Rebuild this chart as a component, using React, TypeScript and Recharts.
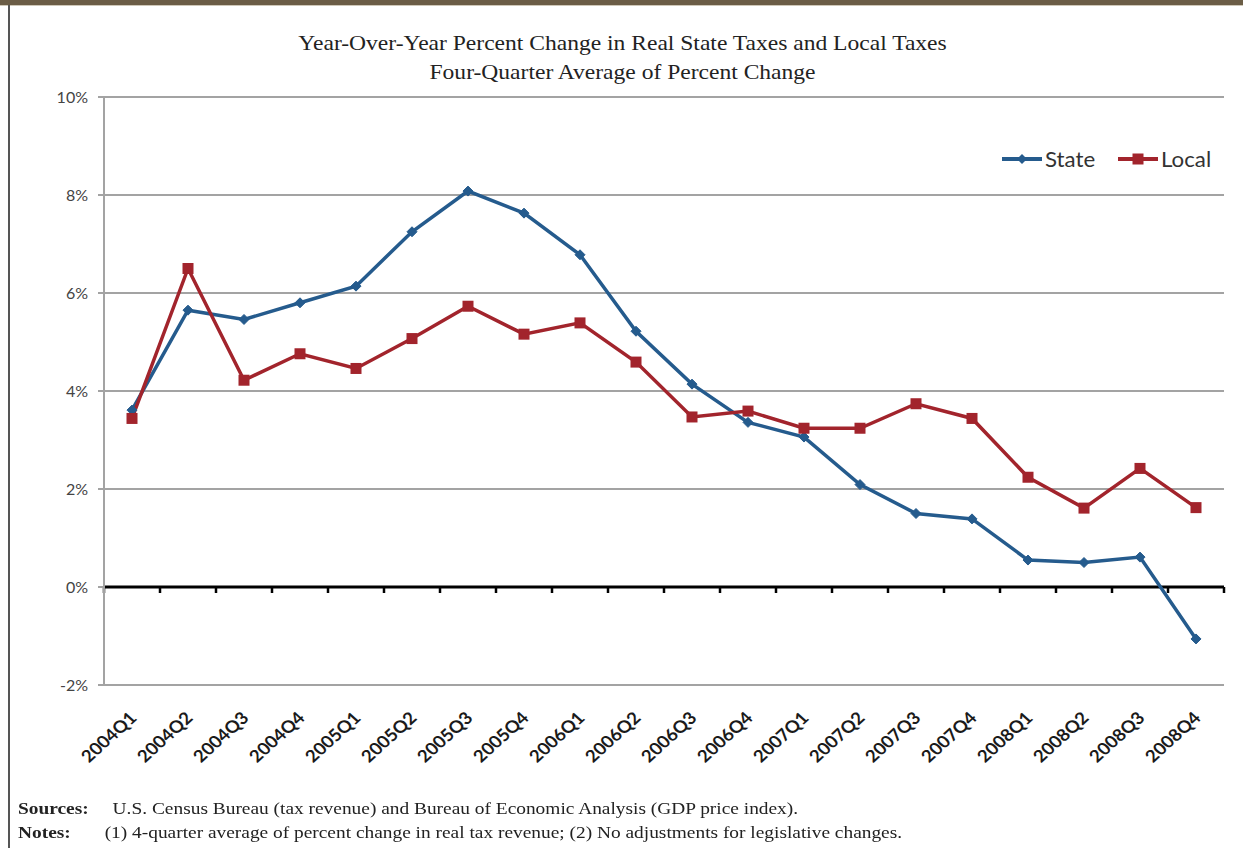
import React from 'react';
import { LineChart, Line, XAxis, YAxis, CartesianGrid, ReferenceLine } from 'recharts';

const quarters = [
  '2004Q1', '2004Q2', '2004Q3', '2004Q4',
  '2005Q1', '2005Q2', '2005Q3', '2005Q4',
  '2006Q1', '2006Q2', '2006Q3', '2006Q4',
  '2007Q1', '2007Q2', '2007Q3', '2007Q4',
  '2008Q1', '2008Q2', '2008Q3', '2008Q4',
];

const stateChange = [3.61, 5.65, 5.46, 5.8, 6.14, 7.25, 8.08, 7.63, 6.78, 5.22, 4.14, 3.36, 3.06, 2.09, 1.5, 1.39, 0.55, 0.5, 0.61, -1.06];
const localChange = [3.44, 6.5, 4.22, 4.76, 4.46, 5.07, 5.73, 5.16, 5.39, 4.59, 3.47, 3.59, 3.24, 3.24, 3.74, 3.44, 2.24, 1.61, 2.42, 1.62];

const yTicks = [-2, 0, 2, 4, 6, 8, 10];

const titleLines = [
  'Year-Over-Year Percent Change in Real State Taxes and Local Taxes',
  'Four-Quarter Average of Percent Change',
];

const STATE_COLOR = '#255b8d';
const LOCAL_COLOR = '#a2242c';
const SANS = "Lato, 'Open Sans', sans-serif";
const SERIF = "'Liberation Serif', 'DejaVu Serif', serif";

const chartData = quarters.map((q, i) => ({
  quarter: q,
  state: stateChange[i],
  local: localChange[i],
}));

const series = [
  { key: 'state', name: 'State', color: STATE_COLOR, marker: 'diamond' },
  { key: 'local', name: 'Local', color: LOCAL_COLOR, marker: 'square' },
];

const DiamondDot = (props: any) => {
  const { cx, cy, index } = props;
  if (cx == null || cy == null) return <g key={index} />;
  const r = 5;
  return (
    <path
      key={index}
      d={`M${cx},${cy - r}L${cx + r},${cy}L${cx},${cy + r}L${cx - r},${cy}Z`}
      fill={STATE_COLOR}
      stroke={STATE_COLOR}
      strokeWidth={1}
    />
  );
};

const SquareDot = (props: any) => {
  const { cx, cy, index } = props;
  if (cx == null || cy == null) return <g key={index} />;
  const s = 11;
  return <rect key={index} x={cx - s / 2} y={cy - s / 2} width={s} height={s} fill={LOCAL_COLOR} />;
};

const XTick = (props: any) => {
  const { x, y, payload } = props;
  return (
    <g transform={`translate(${x + 6},${y + 34}) scale(1.1,1)`}>
      <text
        textAnchor="end"
        transform="rotate(-45)"
        fontFamily={SANS}
        fontSize={17}
        fontWeight={700}
        fill="#1a1a1a"
      >
        {payload.value}
      </text>
    </g>
  );
};

// zero line with boundary ticks between the quarters
const ZeroAxis = (props: any) => {
  const { x1, x2, y1 } = props;
  const n = quarters.length;
  const step = (x2 - x1) / n;
  return (
    <g>
      <line x1={x1} x2={x2} y1={y1} y2={y1} stroke="#000" strokeWidth={3} />
      {Array.from({ length: n + 1 }, (_, i) => (
        <line key={i} x1={x1 + i * step} x2={x1 + i * step} y1={y1} y2={y1 + 6} stroke="#000" strokeWidth={2.5} />
      ))}
    </g>
  );
};

const LegendIcon = ({ color, marker }: { color: string; marker: string }) => (
  <svg width={40} height={14} style={{ marginRight: 3 }}>
    <line x1={0} x2={40} y1={7} y2={7} stroke={color} strokeWidth={4} />
    {marker === 'diamond' ? (
      <path d="M20,2L25,7L20,12L15,7Z" fill={color} />
    ) : (
      <rect x={14.5} y={1.5} width={11} height={11} fill={color} />
    )}
  </svg>
);

export default function App() {
  return (
    <div
      style={{
        position: 'absolute',
        left: 0,
        top: 0,
        width: 1243,
        height: 848,
        background: '#fff',
        overflow: 'hidden',
      }}
    >
      <div style={{ position: 'absolute', left: 0, top: 0, width: 1243, height: 5, background: '#6b5d46' }} />
      <div style={{ position: 'absolute', left: 0, top: 5, width: 1243, height: 1, background: '#cfc8b8' }} />
      <div style={{ position: 'absolute', left: 8, top: 5, width: 2, height: 843, background: '#555' }} />

      <div
        style={{
          position: 'absolute',
          left: 0,
          top: 28,
          width: 1243,
          textAlign: 'center',
          fontFamily: SERIF,
          fontSize: 22,
          lineHeight: '29px',
          color: '#222',
          transform: 'scaleX(1.07)',
          transformOrigin: '622px 0',
        }}
      >
        {titleLines.map((t) => (
          <div key={t} style={{ marginLeft: 2 }}>{t}</div>
        ))}
      </div>

      <LineChart
        width={1243}
        height={848}
        data={chartData}
        margin={{ top: 97, right: 19, left: 44, bottom: 63 }}
        style={{ position: 'absolute', left: 0, top: 0 }}
      >
        <CartesianGrid vertical={false} stroke="#a3a3a3" strokeWidth={2} />
        <XAxis
          dataKey="quarter"
          scale="band"
          axisLine={false}
          tickLine={false}
          tickSize={0}
          tickMargin={0}
          height={100}
          interval={0}
          tick={<XTick />}
        />
        <YAxis
          domain={[-2, 10]}
          ticks={yTicks}
          width={60}
          tickFormatter={(v: number) => `${v}%`}
          axisLine={{ stroke: '#a3a3a3', strokeWidth: 2 }}
          tickLine={{ stroke: '#a3a3a3', strokeWidth: 2 }}
          tickSize={6}
          tickMargin={10}
          tick={{ fontFamily: SANS, fontSize: 16, fill: '#444' }}
        />
        <ReferenceLine y={0} shape={<ZeroAxis />} />
        <Line
          dataKey="state"
          name="State"
          stroke={STATE_COLOR}
          strokeWidth={3.5}
          dot={<DiamondDot />}
          activeDot={false}
          isAnimationActive={false}
        />
        <Line
          dataKey="local"
          name="Local"
          stroke={LOCAL_COLOR}
          strokeWidth={3.5}
          dot={<SquareDot />}
          activeDot={false}
          isAnimationActive={false}
        />
      </LineChart>

      <div
        style={{
          position: 'absolute',
          left: 1002,
          top: 146,
          display: 'flex',
          alignItems: 'center',
          fontFamily: SANS,
          fontSize: 21,
          color: '#333',
        }}
      >
        {series.map((s) => (
          <div key={s.key} style={{ display: 'flex', alignItems: 'center', marginRight: 26 }}>
            <LegendIcon color={s.color} marker={s.marker} />
            <span style={{ display: 'inline-block', transform: 'scaleX(1.06)', transformOrigin: '0 0' }}>{s.name}</span>
          </div>
        ))}
      </div>

      <div
        style={{
          position: 'absolute',
          left: 18,
          top: 797,
          fontFamily: SERIF,
          fontSize: 17,
          lineHeight: '24px',
          color: '#222',
          transform: 'scaleX(1.14)',
          transformOrigin: '0 0',
        }}
      >
        <div style={{ position: 'relative', height: 24 }}>
          <b>Sources:</b>
          <span style={{ position: 'absolute', left: 83, whiteSpace: 'nowrap' }}>
            U.S. Census Bureau (tax revenue) and Bureau of Economic Analysis (GDP price index).
          </span>
        </div>
        <div style={{ position: 'relative', height: 24 }}>
          <b>Notes:</b>
          <span style={{ position: 'absolute', left: 76, whiteSpace: 'nowrap' }}>
            (1) 4-quarter average of percent change in real tax revenue; (2) No adjustments for legislative changes.
          </span>
        </div>
      </div>
    </div>
  );
}
